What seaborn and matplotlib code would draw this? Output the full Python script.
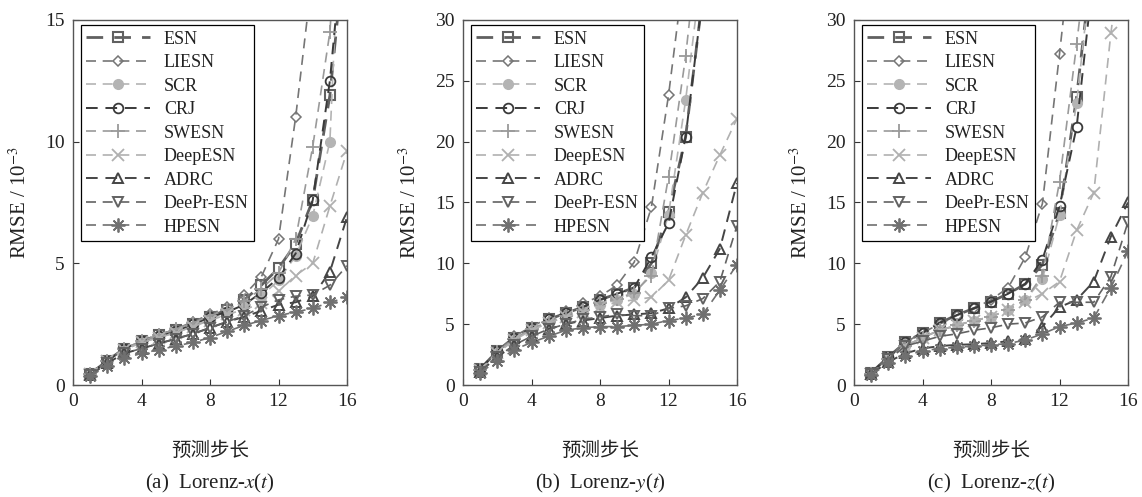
import numpy as np
import pandas as pd
import matplotlib
matplotlib.use("Agg")
import matplotlib.pyplot as plt
import seaborn as sns

sns.set_theme(style="white")
plt.rcParams['font.family'] = ['Liberation Serif', 'Noto Sans CJK SC']
plt.rcParams['mathtext.fontset'] = 'stix'

steps = list(range(1, 17))
models = ["ESN", "LIESN", "SCR", "CRJ", "SWESN", "DeepESN", "ADRC", "DeePr-ESN", "HPESN"]

# Panel (a) Lorenz-x
ESN_a = [0.45, 1.0, 1.5, 1.8, 2.05, 2.25, 2.5, 2.8, 3.1, 3.5, 4.1, 4.8, 5.8, 7.6, 11.9, 19.0]
LIESN_a = [0.45, 1.0, 1.5, 1.8, 2.05, 2.3, 2.6, 2.9, 3.2, 3.7, 4.45, 6.0, 11.0, 17.0, 30.0, 45.0]
SCR_a = [0.45, 1.0, 1.45, 1.75, 1.95, 2.15, 2.4, 2.7, 3.0, 3.3, 3.65, 4.3, 5.3, 6.95, 10.0, 26.0]
CRJ_a = [0.45, 1.0, 1.5, 1.8, 2.0, 2.2, 2.5, 2.8, 3.0, 3.3, 3.8, 4.4, 5.4, 7.6, 12.5, 20.0]
SWESN_a = [0.45, 1.0, 1.5, 1.8, 2.05, 2.3, 2.55, 2.85, 3.1, 3.45, 3.95, 4.6, 6.0, 9.8, 14.5, 25.0]
DeepESN_a = [0.45, 1.0, 1.45, 1.75, 1.95, 2.15, 2.4, 2.65, 2.9, 3.1, 3.35, 3.85, 4.5, 5.0, 7.35, 9.6]
ADRC_a = [0.4, 0.9, 1.3, 1.5, 1.7, 1.9, 2.1, 2.35, 2.6, 2.8, 3.05, 3.3, 3.4, 3.65, 4.65, 6.9]
DeePr_a = [0.4, 0.9, 1.3, 1.5, 1.7, 1.9, 2.1, 2.35, 2.6, 2.85, 3.2, 3.5, 3.65, 3.7, 4.1, 4.9]
HPESN_a = [0.35, 0.8, 1.1, 1.3, 1.45, 1.6, 1.75, 1.95, 2.2, 2.45, 2.65, 2.85, 3.0, 3.15, 3.4, 3.6]

# Panel (b) Lorenz-y
ESN_b = [1.3, 2.8, 3.9, 4.7, 5.4, 5.9, 6.4, 7.0, 7.5, 8.0, 10.0, 14.2, 20.4, 32.0, 45.0, 60.0]
LIESN_b = [1.3, 2.8, 4.0, 4.8, 5.5, 6.1, 6.7, 7.3, 8.2, 10.1, 14.6, 23.8, 35.0, 50.0, 65.0, 80.0]
SCR_b = [1.2, 2.7, 3.8, 4.6, 5.2, 5.7, 6.1, 6.6, 7.0, 7.5, 9.2, 14.0, 23.4, 35.0, 50.0, 65.0]
CRJ_b = [1.3, 2.8, 3.9, 4.7, 5.4, 5.9, 6.4, 7.0, 7.5, 8.0, 10.5, 13.3, 20.4, 32.0, 45.0, 60.0]
SWESN_b = [1.2, 2.7, 3.8, 4.6, 5.2, 5.7, 6.2, 6.7, 7.1, 7.6, 9.0, 17.1, 27.0, 40.0, 55.0, 70.0]
DeepESN_b = [1.2, 2.6, 3.7, 4.5, 5.1, 5.6, 6.0, 6.4, 6.8, 7.0, 7.2, 8.6, 12.3, 15.8, 18.9, 21.9]
ADRC_b = [1.1, 2.3, 3.3, 4.0, 4.6, 5.0, 5.3, 5.5, 5.7, 5.8, 5.9, 6.3, 7.2, 8.8, 11.2, 16.6]
DeePr_b = [1.1, 2.3, 3.3, 4.0, 4.6, 5.0, 5.4, 5.6, 5.8, 5.7, 5.7, 6.3, 6.5, 7.1, 8.5, 13.1]
HPESN_b = [1.0, 2.0, 2.9, 3.5, 4.0, 4.5, 4.7, 4.8, 4.8, 4.9, 5.0, 5.3, 5.5, 5.8, 7.8, 9.9]

# Panel (c) Lorenz-z
ESN_c = [1.0, 2.3, 3.5, 4.3, 5.1, 5.75, 6.3, 6.85, 7.5, 8.3, 9.9, 14.1, 23.7, 36.0, 50.0, 65.0]
LIESN_c = [1.0, 2.3, 3.5, 4.3, 5.0, 5.7, 6.3, 7.0, 8.0, 10.5, 14.9, 27.2, 40.0, 55.0, 70.0, 85.0]
SCR_c = [0.9, 2.1, 3.2, 3.9, 4.5, 4.9, 5.3, 5.6, 6.2, 7.0, 8.7, 14.0, 23.2, 36.0, 50.0, 65.0]
CRJ_c = [1.0, 2.3, 3.5, 4.3, 5.1, 5.75, 6.3, 6.85, 7.5, 8.3, 10.3, 14.7, 21.2, 34.0, 48.0, 62.0]
SWESN_c = [0.9, 2.1, 3.2, 3.9, 4.5, 4.9, 5.3, 5.6, 6.2, 7.0, 9.0, 16.7, 28.0, 40.0, 55.0, 70.0]
DeepESN_c = [0.9, 2.1, 3.2, 3.9, 4.5, 4.9, 5.3, 5.6, 6.2, 6.8, 7.5, 8.5, 12.7, 15.8, 28.9, 40.0]
ADRC_c = [0.9, 1.9, 2.6, 3.0, 3.2, 3.3, 3.35, 3.45, 3.6, 3.8, 4.8, 6.4, 7.0, 8.5, 12.2, 15.0]
DeePr_c = [0.9, 2.1, 3.2, 3.6, 4.0, 4.2, 4.5, 4.7, 5.0, 5.1, 5.6, 6.8, 6.8, 6.8, 8.9, 13.4]
HPESN_c = [0.8, 1.8, 2.4, 2.8, 3.0, 3.1, 3.2, 3.3, 3.4, 3.7, 4.2, 4.8, 5.1, 5.5, 8.0, 11.0]

x_ticks = [0, 4, 8, 12, 16]
y_ticks_a = [0, 5, 10, 15]
y_ticks_bc = [0, 5, 10, 15, 20, 25, 30]
xlabel_text = "预测步长"
ylabel_text = r"RMSE / 10$^{-3}$"
captions = [r"(a)  Lorenz-$x$($t$)", r"(b)  Lorenz-$y$($t$)", r"(c)  Lorenz-$z$($t$)"]

panels = [
    [ESN_a, LIESN_a, SCR_a, CRJ_a, SWESN_a, DeepESN_a, ADRC_a, DeePr_a, HPESN_a],
    [ESN_b, LIESN_b, SCR_b, CRJ_b, SWESN_b, DeepESN_b, ADRC_b, DeePr_b, HPESN_b],
    [ESN_c, LIESN_c, SCR_c, CRJ_c, SWESN_c, DeepESN_c, ADRC_c, DeePr_c, HPESN_c],
]
ylims = [15, 30, 30]

styles = {
    "ESN":       dict(color="#606060", marker="s", lw=2.0, mfc="none", ms=7, mew=1.5),
    "LIESN":     dict(color="#757575", marker="D", lw=1.2, mfc="none", ms=5.5, mew=1.1),
    "SCR":       dict(color="#b4b4b4", marker="o", lw=1.2, mfc="#b4b4b4", ms=7, mew=1.0),
    "CRJ":       dict(color="#3a3a3a", marker="o", lw=1.4, mfc="none", ms=7, mew=1.3),
    "SWESN":     dict(color="#9a9a9a", marker="+", lw=1.2, mfc="none", ms=10, mew=1.3),
    "DeepESN":   dict(color="#b0b0b0", marker="x", lw=1.2, mfc="none", ms=8, mew=1.3),
    "ADRC":      dict(color="#454545", marker="^", lw=1.4, mfc="none", ms=7, mew=1.4),
    "DeePr-ESN": dict(color="#626262", marker="v", lw=1.2, mfc="none", ms=7, mew=1.4),
    "HPESN":     dict(color="#707070", marker=(8, 2, 0), lw=1.2, mfc="none", ms=10, mew=1.3),
}

fig = plt.figure(figsize=(11.42, 4.97), dpi=100)
lefts = [73, 463, 854]
W, H = 1142, 497
for pi, (left, series, ymax) in enumerate(zip(lefts, panels, ylims)):
    ax = fig.add_axes([left / W, (H - 385) / H, 274 / W, 365 / H])
    for name, vals in zip(models, series):
        st = styles[name]
        df = pd.DataFrame({"step": steps, "rmse": vals})
        sns.lineplot(data=df, x="step", y="rmse", ax=ax, estimator=None,
                     color=st["color"], linewidth=st["lw"], linestyle=(0, (6, 4)),
                     marker=st["marker"], markersize=st["ms"], markerfacecolor=st["mfc"],
                     markeredgecolor=st["color"], markeredgewidth=st["mew"], label=name)
    ax.set_xlim(0, 16)
    ax.set_ylim(0, ymax)
    ax.set_xticks(x_ticks)
    ax.set_yticks(y_ticks_a if pi == 0 else y_ticks_bc)
    ax.tick_params(direction="in", length=4, width=0.8, colors="#333333",
                   labelsize=14, labelcolor="#222222", pad=6, top=False, right=False,
                   bottom=True, left=True)
    for sp in ax.spines.values():
        sp.set_color("#555555")
        sp.set_linewidth(1.0)
    ax.set_xlabel(xlabel_text, fontsize=14, color="#222222")
    ax.xaxis.set_label_coords(0.5, -0.155)
    ax.set_ylabel(ylabel_text, fontsize=15, color="#222222")
    ax.yaxis.set_label_coords(-0.155, 0.5)
    leg = ax.legend(loc="upper left", bbox_to_anchor=(0.029, 0.986), borderaxespad=0,
                    fancybox=False, edgecolor="black", framealpha=1, fontsize=13,
                    handlelength=3.5, labelspacing=0.36, handletextpad=0.8,
                    borderpad=0.3)
    leg.get_frame().set_linewidth(0.9)
    for t in leg.get_texts():
        t.set_color("#222222")
    fig.text((left + 137) / W, (H - 483) / H, captions[pi], ha="center", va="center",
             fontsize=15, color="#222222")

fig.savefig("out.png", dpi=100)
